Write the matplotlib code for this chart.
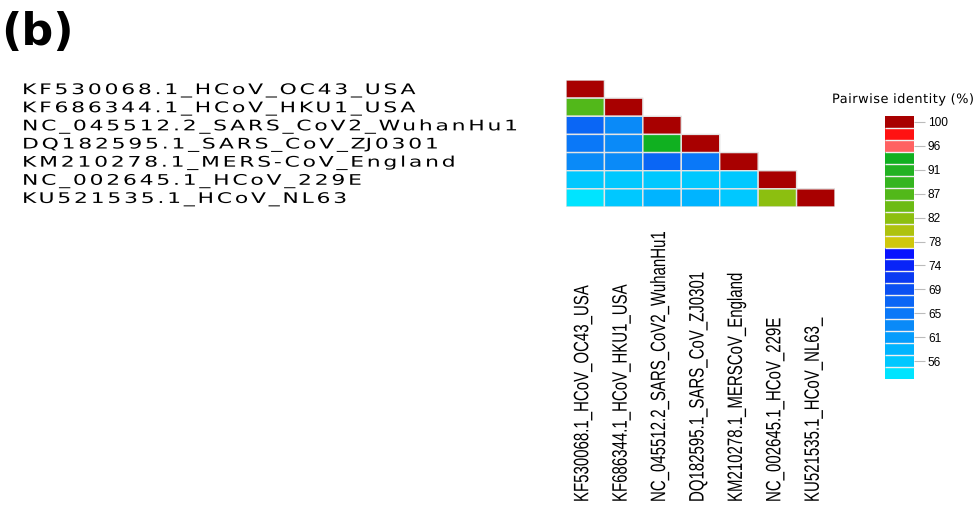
import numpy as np
import matplotlib
matplotlib.use("Agg")
import matplotlib.pyplot as plt
from matplotlib import patheffects
from matplotlib.path import Path
from matplotlib.colors import ListedColormap, BoundaryNorm
from matplotlib.cm import ScalarMappable
from matplotlib.transforms import blended_transform_factory

# --- data -------------------------------------------------------------
row_names = ["KF530068.1_HCoV_OC43_USA", "KF686344.1_HCoV_HKU1_USA",
             "NC_045512.2_SARS_CoV2_WuhanHu1", "DQ182595.1_SARS_CoV_ZJ0301",
             "KM210278.1_MERS-CoV_England", "NC_002645.1_HCoV_229E",
             "KU521535.1_HCoV_NL63"]
col_names = ["KF530068.1_HCoV_OC43_USA", "KF686344.1_HCoV_HKU1_USA",
             "NC_045512.2_SARS_CoV2_WuhanHu1", "DQ182595.1_SARS_CoV_ZJ0301",
             "KM210278.1_MERSCoV_England", "NC_002645.1_HCoV_229E",
             "KU521535.1_HCoV_NL63_"]
# lower triangle of pairwise identity (%), row by row
identity = [
    [100],
    [86.5, 100],
    [67.0, 62.5, 100],
    [64.5, 62.5, 93.5, 100],
    [63.0, 62.5, 67.0, 64.5, 100],
    [56.5, 56.5, 56.5, 56.5, 55.5, 100],
    [53.8, 55.5, 58.0, 57.5, 56.5, 82.5, 100],
]
# colour bins, top (100) to bottom
bin_colors = ["#a80000", "#ff1212", "#ff6262", "#10b020", "#22b222", "#35b520",
              "#52b81a", "#6cbb14", "#8cbf10", "#aec20e", "#d0c80c",
              "#0812ff", "#0824f8", "#0a3af2", "#0a50f2", "#0a66f5", "#0a78f8",
              "#0a8af8", "#069cfc", "#00b4ff", "#00c8ff", "#00e4ff"]
bin_top, bin_step = 101.1, 2.2
cbar_labels = ["100", "96", "91", "87", "82", "78", "74", "69", "65", "61", "56"]


class Spaced(patheffects.AbstractPathEffect):
    """widen glyphs by sx and add sp (1/100 em) between them"""
    def __init__(self, sx=1.0, sp=0.0):
        super().__init__()
        self.sx, self.sp = sx, sp

    def draw_path(self, renderer, gc, tpath, affine, rgbFace=None):
        v = tpath.vertices.copy()
        c = tpath.codes
        if c is not None and self.sp:
            starts = list(np.where(c == Path.MOVETO)[0])
            ends = starts[1:] + [len(c)]
            pieces = []
            for s, e in zip(starts, ends):
                ok = c[s:e] != Path.CLOSEPOLY
                xs = v[s:e, 0][ok]
                pieces.append((xs.min(), xs.max(), s, e))
            pieces.sort()
            g, gmax = -1, -np.inf
            shift = np.zeros(len(v))
            for x0, x1, s, e in pieces:
                if x0 >= gmax - 0.5:
                    g += 1
                    gmax = x1
                else:
                    gmax = max(gmax, x1)
                shift[s:e] = g
            v[:, 0] = v[:, 0] * self.sx + shift * self.sp
        else:
            v[:, 0] = v[:, 0] * self.sx
        renderer.draw_path(gc, Path(v, c), affine, rgbFace)


W, H = 977, 508
fx = lambda p: p / W
fy = lambda p: 1 - p / H

n = len(row_names)
M = np.full((n, n), np.nan)
for i, row in enumerate(identity):
    M[i, :len(row)] = row

cmap = ListedColormap(bin_colors[::-1])
bounds = bin_top - bin_step * np.arange(len(bin_colors) + 1)[::-1]
norm = BoundaryNorm(bounds, cmap.N)

fig = plt.figure(figsize=(9.77, 5.08), dpi=100)

ax = fig.add_axes([fx(566), fy(207), (835 - 566) / W, (207 - 80) / H])
ax.pcolor(np.arange(n + 1), np.arange(n + 1), np.ma.masked_invalid(M),
          cmap=cmap, norm=norm, edgecolors="#e4e4e4", linewidth=1)
ax.set_xlim(0, n)
ax.set_ylim(n, 0)
ax.axis("off")

row_px = (207 - 80) / n
cell_px = (835 - 566) / n
tr = blended_transform_factory(fig.transFigure, ax.transData)
for i, name in enumerate(row_names):
    ax.text(fx(22), i + 0.5 + 5 / row_px, name, transform=tr, ha="left",
            va="baseline", fontsize=10.5, family="DejaVu Sans", color="black",
            path_effects=[Spaced(1.5, 19)])

tc = blended_transform_factory(ax.transData, fig.transFigure)
for j, name in enumerate(col_names):
    ax.text(j + 0.5 + 3 / cell_px, fy(502), name, transform=tc, rotation=90,
            rotation_mode="anchor", ha="left", va="baseline", fontsize=15,
            family="Liberation Sans", color="black",
            path_effects=[Spaced(0.72)])

fig.text(fx(1), fy(45), "(b)", fontsize=32, fontweight="bold", va="baseline")

# colour bar
cax = fig.add_axes([fx(885), fy(379), 29 / W, (379 - 116) / H])
cb = fig.colorbar(ScalarMappable(norm=norm, cmap=cmap), cax=cax,
                  boundaries=bounds, drawedges=True,
                  ticks=[100 - 2 * bin_step * k for k in range(len(cbar_labels))])
cb.set_ticklabels(cbar_labels)
cb.outline.set_visible(False)
cb.dividers.set_color("#f0f0f0")
cb.dividers.set_linewidth(1)
cax.minorticks_off()
cax.tick_params(length=8, width=0.8, color="#bbbbbb", pad=2, labelsize=8.6)
for lab in cax.get_yticklabels():
    lab.set_family("Liberation Sans")
fig.text(fx(832), fy(103), "Pairwise identity (%)", ha="left", va="baseline",
         fontsize=9.3, family="DejaVu Sans", path_effects=[Spaced(1.0, 4)])

fig.savefig("out.png", dpi=100)
